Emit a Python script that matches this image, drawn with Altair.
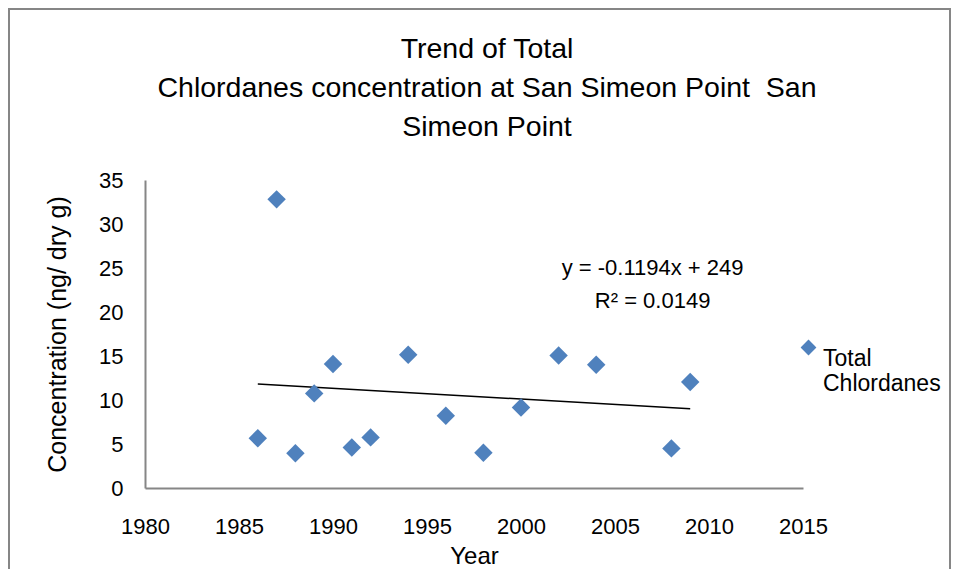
import altair as alt
import pandas as pd

# Data
years = [1986, 1987, 1988, 1989, 1990, 1991, 1992, 1994, 1996, 1998, 2000, 2002, 2004, 2008, 2009]
concentration = [5.65, 32.8, 3.95, 10.75, 14.1, 4.6, 5.75, 15.15, 8.2, 4.0, 9.15, 15.05, 14.0, 4.5, 12.05]
series_name = "Total Chlordanes"

eq_lines = ["y = -0.1194x + 249", "R² = 0.0149"]
eq_x = [2007.0, 2007.0]
eq_y = [25.0, 21.25]

x_ticks = [1980, 1985, 1990, 1995, 2000, 2005, 2010, 2015]
y_ticks = [0, 5, 10, 15, 20, 25, 30, 35]

title_lines = ["Trend of Total", "Chlordanes concentration at San Simeon Point \u00a0San", "Simeon Point"]

FONT = "'Liberation Sans', Arial, sans-serif"
BLUE = "#4F81BD"
W, H = 658, 308

df = pd.DataFrame({"Year": years, "Conc": concentration, "Series": series_name})
eq_df = pd.DataFrame({"x": eq_x, "y": eq_y, "t": eq_lines})

xscale = alt.Scale(domain=[1980, 2015], nice=False, zero=False)
yscale = alt.Scale(domain=[0, 35], nice=False)

xaxis = alt.Axis(values=x_ticks, format="d", title="Year", grid=False, ticks=False,
                 domainColor="#868686", domainWidth=2, labelPadding=28, labelFlush=False,
                 labelFontSize=22, titleFontSize=24, titlePadding=7,
                 labelColor="#000", titleColor="#000", titleFontWeight="normal")
yaxis = alt.Axis(values=y_ticks, title="Concentration (ng/ dry g)", grid=False, ticks=False,
                 domainColor="#868686", domainWidth=2, labelPadding=22,
                 labelFontSize=22, titleFontSize=25, titlePadding=28,
                 labelColor="#000", titleColor="#000", titleFontWeight="normal")

points = alt.Chart(df).mark_point(shape="diamond", filled=True, size=340, opacity=1).encode(
    x=alt.X("Year:Q", scale=xscale, axis=xaxis),
    y=alt.Y("Conc:Q", scale=yscale, axis=yaxis),
    color=alt.Color("Series:N", scale=alt.Scale(range=[BLUE]),
                    legend=alt.Legend(title=None, orient="none", legendX=652, legendY=156,
                                      symbolType="diamond", symbolSize=250,
                                      labelFontSize=23, labelFont=FONT, labelColor="#000",
                                      labelBaseline="top", labelOffset=3,
                                      labelExpr="['Total', 'Chlordanes']")),
)

trend = alt.Chart(df).transform_regression("Year", "Conc").mark_line(
    color="#000", strokeWidth=1.5).encode(x="Year:Q", y="Conc:Q")

eq = alt.Chart(eq_df).mark_text(fontSize=22, font=FONT, color="#000", align="center").encode(
    x="x:Q", y="y:Q", text="t:N")

frame = alt.Chart(pd.DataFrame({"a": [0]})).mark_rect(
    fill=None, stroke="#868686", strokeWidth=2, clip=False).encode(
    x=alt.value(-136), x2=alt.value(805), y=alt.value(-171), y2=alt.value(420))

chart = alt.layer(frame, trend, points, eq).properties(
    width=W, height=H,
    title=alt.TitleParams(title_lines, anchor="middle", fontSize=28.5, font=FONT,
                          fontWeight="normal", color="#000", lineHeight=39, offset=0,
                          dx=13, dy=133),
    padding={"left": 137, "top": 172, "right": 148, "bottom": 81},
    autosize=alt.AutoSizeParams(type="none"),
).configure_view(stroke=None).configure_axis(labelFont=FONT, titleFont=FONT)

chart.save("out.html", embed_options={"renderer": "svg", "actions": False})
